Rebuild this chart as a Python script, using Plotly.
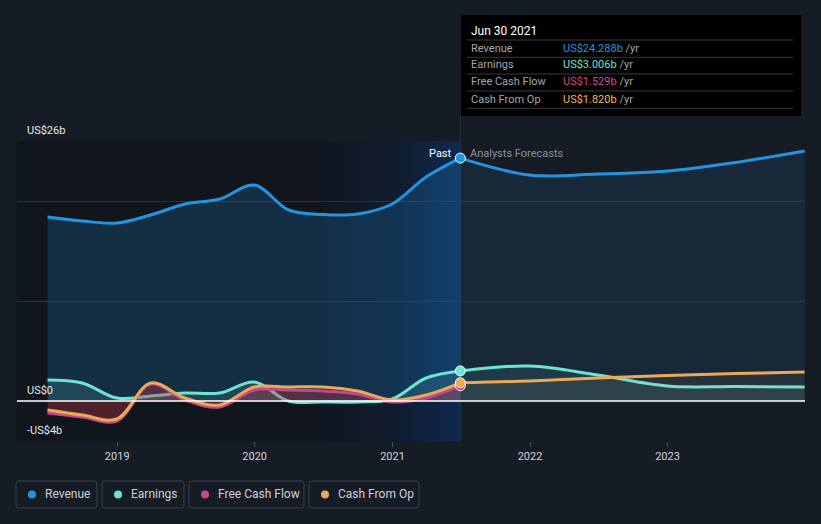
import plotly.graph_objects as go

# ---------------- data ----------------
past_dates = ['2018-06-30', '2018-09-30', '2018-12-31', '2019-03-31', '2019-06-30',
              '2019-09-30', '2019-12-31', '2020-03-31', '2020-06-30', '2020-09-30',
              '2020-12-31', '2021-03-31', '2021-06-30']
revenue_past = [18.4, 18.0, 17.8, 18.6, 19.7, 20.2, 21.6, 19.1, 18.65, 18.7, 19.7, 22.4, 24.288]
earnings_past = [2.1, 1.8, 0.3, 0.5, 0.8, 0.8, 1.9, 0.0, -0.1, -0.1, 0.2, 2.3, 3.006]
fcf_past = [-1.2, -1.6, -2.0, 1.7, 0.1, -0.6, 1.1, 1.1, 1.0, 0.7, -0.1, 0.3, 1.529]
cfo_past = [-0.9, -1.4, -1.8, 1.8, 0.3, -0.4, 1.4, 1.4, 1.4, 1.0, 0.1, 0.6, 1.82]

fc_dates = ['2021-06-30', '2021-12-31', '2022-06-30', '2022-12-31', '2023-06-30', '2023-12-31']
revenue_fc = [24.288, 22.6, 22.7, 23.0, 23.85, 25.0]
earnings_fc = [3.006, 3.5, 2.6, 1.5, 1.45, 1.4]
cfo_fc = [1.82, 2.0, 2.3, 2.55, 2.75, 2.9]

x_ticks = ['2019-01-01', '2020-01-01', '2021-01-01', '2022-01-01', '2023-01-01']
x_tick_labels = ['2019', '2020', '2021', '2022', '2023']
y_grid = [-4, 0, 10, 20, 26]
y_labels = {26: 'US$26b', 0: 'US$0', -4: '-US$4b'}
x_range = ['2018-04-10', '2024-01-01']
y_range = [-4, 26]
band_start, band_end = '2020-07-01', '2021-06-30'

tooltip_title = 'Jun 30 2021'
tooltip_rows = [('Revenue', 'US$24.288b'), ('Earnings', 'US$3.006b'),
                ('Free Cash Flow', 'US$1.529b'), ('Cash From Op', 'US$1.820b')]
series_names = ['Revenue', 'Earnings', 'Free Cash Flow', 'Cash From Op']

# ---------------- style ----------------
C_REV = '#2394df'
C_EARN = '#6de3d3'
C_FCF = '#c6468a'
C_CFO = '#eaa957'
TIP_COLORS = ['#2394df', '#6de3d3', '#d5488e', '#f1b55e']
BG = '#161c26'
PAST_BG = '#11151c'
FONT = 'Roboto'

W, H = 821, 524
L, R, T, B = 17, 805, 141, 441


def px(x):
    return (x - L) / (R - L)


def py(y):
    return (B - y) / (B - T)


fig = go.Figure()

# gradient band (past 12 months highlight)
fig.add_trace(go.Scatter(
    x=[band_start, band_end, band_end, band_start, band_start],
    y=[y_range[0], y_range[0], y_range[1], y_range[1], y_range[0]],
    mode='lines', line=dict(width=0), fill='toself',
    fillgradient=dict(type='horizontal',
                      colorscale=[[0, 'rgba(12,45,100,0.06)'], [0.5, 'rgba(12,50,110,0.22)'],
                                  [1, 'rgba(12,60,128,0.52)']]),
    hoverinfo='skip', showlegend=False))

# revenue
fig.add_trace(go.Scatter(x=past_dates, y=revenue_past, mode='lines',
                         line=dict(color=C_REV, width=3, shape='spline'),
                         fill='tozeroy', fillcolor='rgba(35,148,223,0.20)',
                         hoverinfo='skip', showlegend=False))
fig.add_trace(go.Scatter(x=fc_dates, y=revenue_fc, mode='lines',
                         line=dict(color=C_REV, width=3, shape='spline'),
                         fill='tozeroy', fillcolor='rgba(35,148,223,0.11)',
                         hoverinfo='skip', showlegend=False))
# earnings
fig.add_trace(go.Scatter(x=past_dates, y=earnings_past, mode='lines',
                         line=dict(color=C_EARN, width=3, shape='spline'),
                         fill='tozeroy', fillcolor='rgba(109,227,211,0.14)',
                         hoverinfo='skip', showlegend=False))
fig.add_trace(go.Scatter(x=fc_dates, y=earnings_fc, mode='lines',
                         line=dict(color=C_EARN, width=3, shape='spline'),
                         fill='tozeroy', fillcolor='rgba(109,227,211,0.10)',
                         hoverinfo='skip', showlegend=False))
# free cash flow
fig.add_trace(go.Scatter(x=past_dates, y=fcf_past, mode='lines',
                         line=dict(color=C_FCF, width=3, shape='spline'),
                         fill='tozeroy', fillcolor='rgba(190,55,70,0.36)',
                         hoverinfo='skip', showlegend=False))
# cash from op
fig.add_trace(go.Scatter(x=past_dates, y=cfo_past, mode='lines',
                         line=dict(color=C_CFO, width=3, shape='spline'),
                         hoverinfo='skip', showlegend=False))
fig.add_trace(go.Scatter(x=fc_dates, y=cfo_fc, mode='lines',
                         line=dict(color=C_CFO, width=3, shape='spline'),
                         fill='tozeroy', fillcolor='rgba(234,169,87,0.08)',
                         hoverinfo='skip', showlegend=False))

# markers at the last reported point
fig.add_trace(go.Scatter(x=[past_dates[-1]] * 4,
                         y=[fcf_past[-1], cfo_past[-1], earnings_past[-1], revenue_past[-1]],
                         mode='markers',
                         marker=dict(color=[C_FCF, C_CFO, C_EARN, C_REV], size=10,
                                     line=dict(color='#ffffff', width=1)),
                         cliponaxis=False, hoverinfo='skip', showlegend=False))

shapes = []
# darker past region
shapes.append(dict(type='rect', xref='x', yref='paper', x0=x_range[0], x1=band_end, y0=0, y1=1,
                   fillcolor=PAST_BG, line=dict(width=0), layer='below'))
# zero line
shapes.append(dict(type='line', xref='paper', yref='y', x0=0, x1=1, y0=0, y1=0,
                   line=dict(color='white', width=1.5), layer='above'))
# vertical divider
shapes.append(dict(type='line', xref='x', yref='paper', x0=band_end, x1=band_end, y0=0, y1=py(116),
                   line=dict(color='#22324a', width=1), layer='between'))
# tooltip box
shapes.append(dict(type='rect', xref='paper', yref='paper', x0=px(461), x1=px(801), y0=py(116), y1=py(15),
                   fillcolor='#000000', line=dict(width=0), layer='above'))
for ly in [40, 57.3, 74, 91, 108.3]:
    shapes.append(dict(type='line', xref='paper', yref='paper', x0=px(467), x1=px(793), y0=py(ly), y1=py(ly),
                       line=dict(color='#3a3a3a', width=1), layer='above'))


def rounded_rect(x0, y0, x1, y1, r=3):
    # pixel coords -> paper path
    pts = (f"M {px(x0 + r)},{py(y0)} L {px(x1 - r)},{py(y0)} Q {px(x1)},{py(y0)} {px(x1)},{py(y0 + r)} "
           f"L {px(x1)},{py(y1 - r)} Q {px(x1)},{py(y1)} {px(x1 - r)},{py(y1)} "
           f"L {px(x0 + r)},{py(y1)} Q {px(x0)},{py(y1)} {px(x0)},{py(y1 - r)} "
           f"L {px(x0)},{py(y0 + r)} Q {px(x0)},{py(y0)} {px(x0 + r)},{py(y0)} Z")
    return pts


legend_boxes = [(16, 97), (102, 184), (189, 304), (309, 419)]
legend_colors = [C_REV, C_EARN, C_FCF, C_CFO]
annotations = []
for (bx0, bx1), col, name in zip(legend_boxes, legend_colors, series_names):
    shapes.append(dict(type='path', xref='paper', yref='paper', path=rounded_rect(bx0, 481, bx1, 508),
                       line=dict(color='#3b404a', width=1), fillcolor='rgba(0,0,0,0)', layer='above'))
    cx, cy, rr = bx0 + 16, 494.5, 4
    shapes.append(dict(type='circle', xref='paper', yref='paper', x0=px(cx - rr), x1=px(cx + rr),
                       y0=py(cy + rr), y1=py(cy - rr), fillcolor=col, line=dict(width=0), layer='above'))
    annotations.append(dict(xref='paper', yref='paper', x=px(bx0 + 27), y=py(494.5), text=name,
                            showarrow=False, xanchor='left', yanchor='middle',
                            font=dict(family=FONT, size=12, color='#cdd1d6')))

# y labels
for v, t in y_labels.items():
    annotations.append(dict(xref='paper', yref='y', x=px(25), y=v, yshift=2, text=t, showarrow=False,
                            xanchor='left', yanchor='bottom', font=dict(family=FONT, size=11, color='#e8e8e8')))

# past / forecast labels
annotations.append(dict(xref='x', yref='paper', x=band_end, y=py(153), xshift=-6, text='Past', showarrow=False,
                        xanchor='right', yanchor='middle', font=dict(family=FONT, size=11, color='#ffffff')))
annotations.append(dict(xref='x', yref='paper', x=band_end, y=py(153), xshift=8, text='Analysts Forecasts',
                        showarrow=False, xanchor='left', yanchor='middle',
                        font=dict(family=FONT, size=11, color='#8b9097')))

# tooltip texts
annotations.append(dict(xref='paper', yref='paper', x=px(469), y=py(31), text=tooltip_title, showarrow=False,
                        xanchor='left', yanchor='middle', font=dict(family=FONT, size=12, color='#ffffff')))
row_y = [48.3, 65, 81.7, 99]
for (lab, val), col, ry in zip(tooltip_rows, TIP_COLORS, row_y):
    annotations.append(dict(xref='paper', yref='paper', x=px(469), y=py(ry), text=lab, showarrow=False,
                            xanchor='left', yanchor='middle', font=dict(family=FONT, size=11, color='#a3a7ad')))
    annotations.append(dict(xref='paper', yref='paper', x=px(561), y=py(ry),
                            text=f'<span style="color:{col}">{val}</span> /yr', showarrow=False,
                            xanchor='left', yanchor='middle', font=dict(family=FONT, size=11, color='#a3a7ad')))

fig.update_layout(
    width=W, height=H,
    margin=dict(l=L, r=W - R, t=T, b=H - B),
    paper_bgcolor=BG, plot_bgcolor=BG,
    showlegend=False,
    font=dict(family=FONT, color='#d0d0d0'),
    xaxis=dict(type='date', range=x_range, tickvals=x_ticks, ticktext=x_tick_labels,
               showgrid=False, zeroline=False, ticks='outside', ticklen=5, tickcolor='#4a505a',
               showline=False, tickfont=dict(family=FONT, size=11, color='#d0d3d8')),
    yaxis=dict(range=y_range, tickvals=y_grid, showticklabels=False, showgrid=True,
               gridcolor='#2a313c', gridwidth=1, zeroline=False),
    shapes=shapes,
    annotations=annotations,
)

fig.write_html('out.html', config={'displayModeBar': False},
               post_script="document.body.style.margin='0';document.body.style.padding='0';"
                           "document.body.style.background='#161c26';")
